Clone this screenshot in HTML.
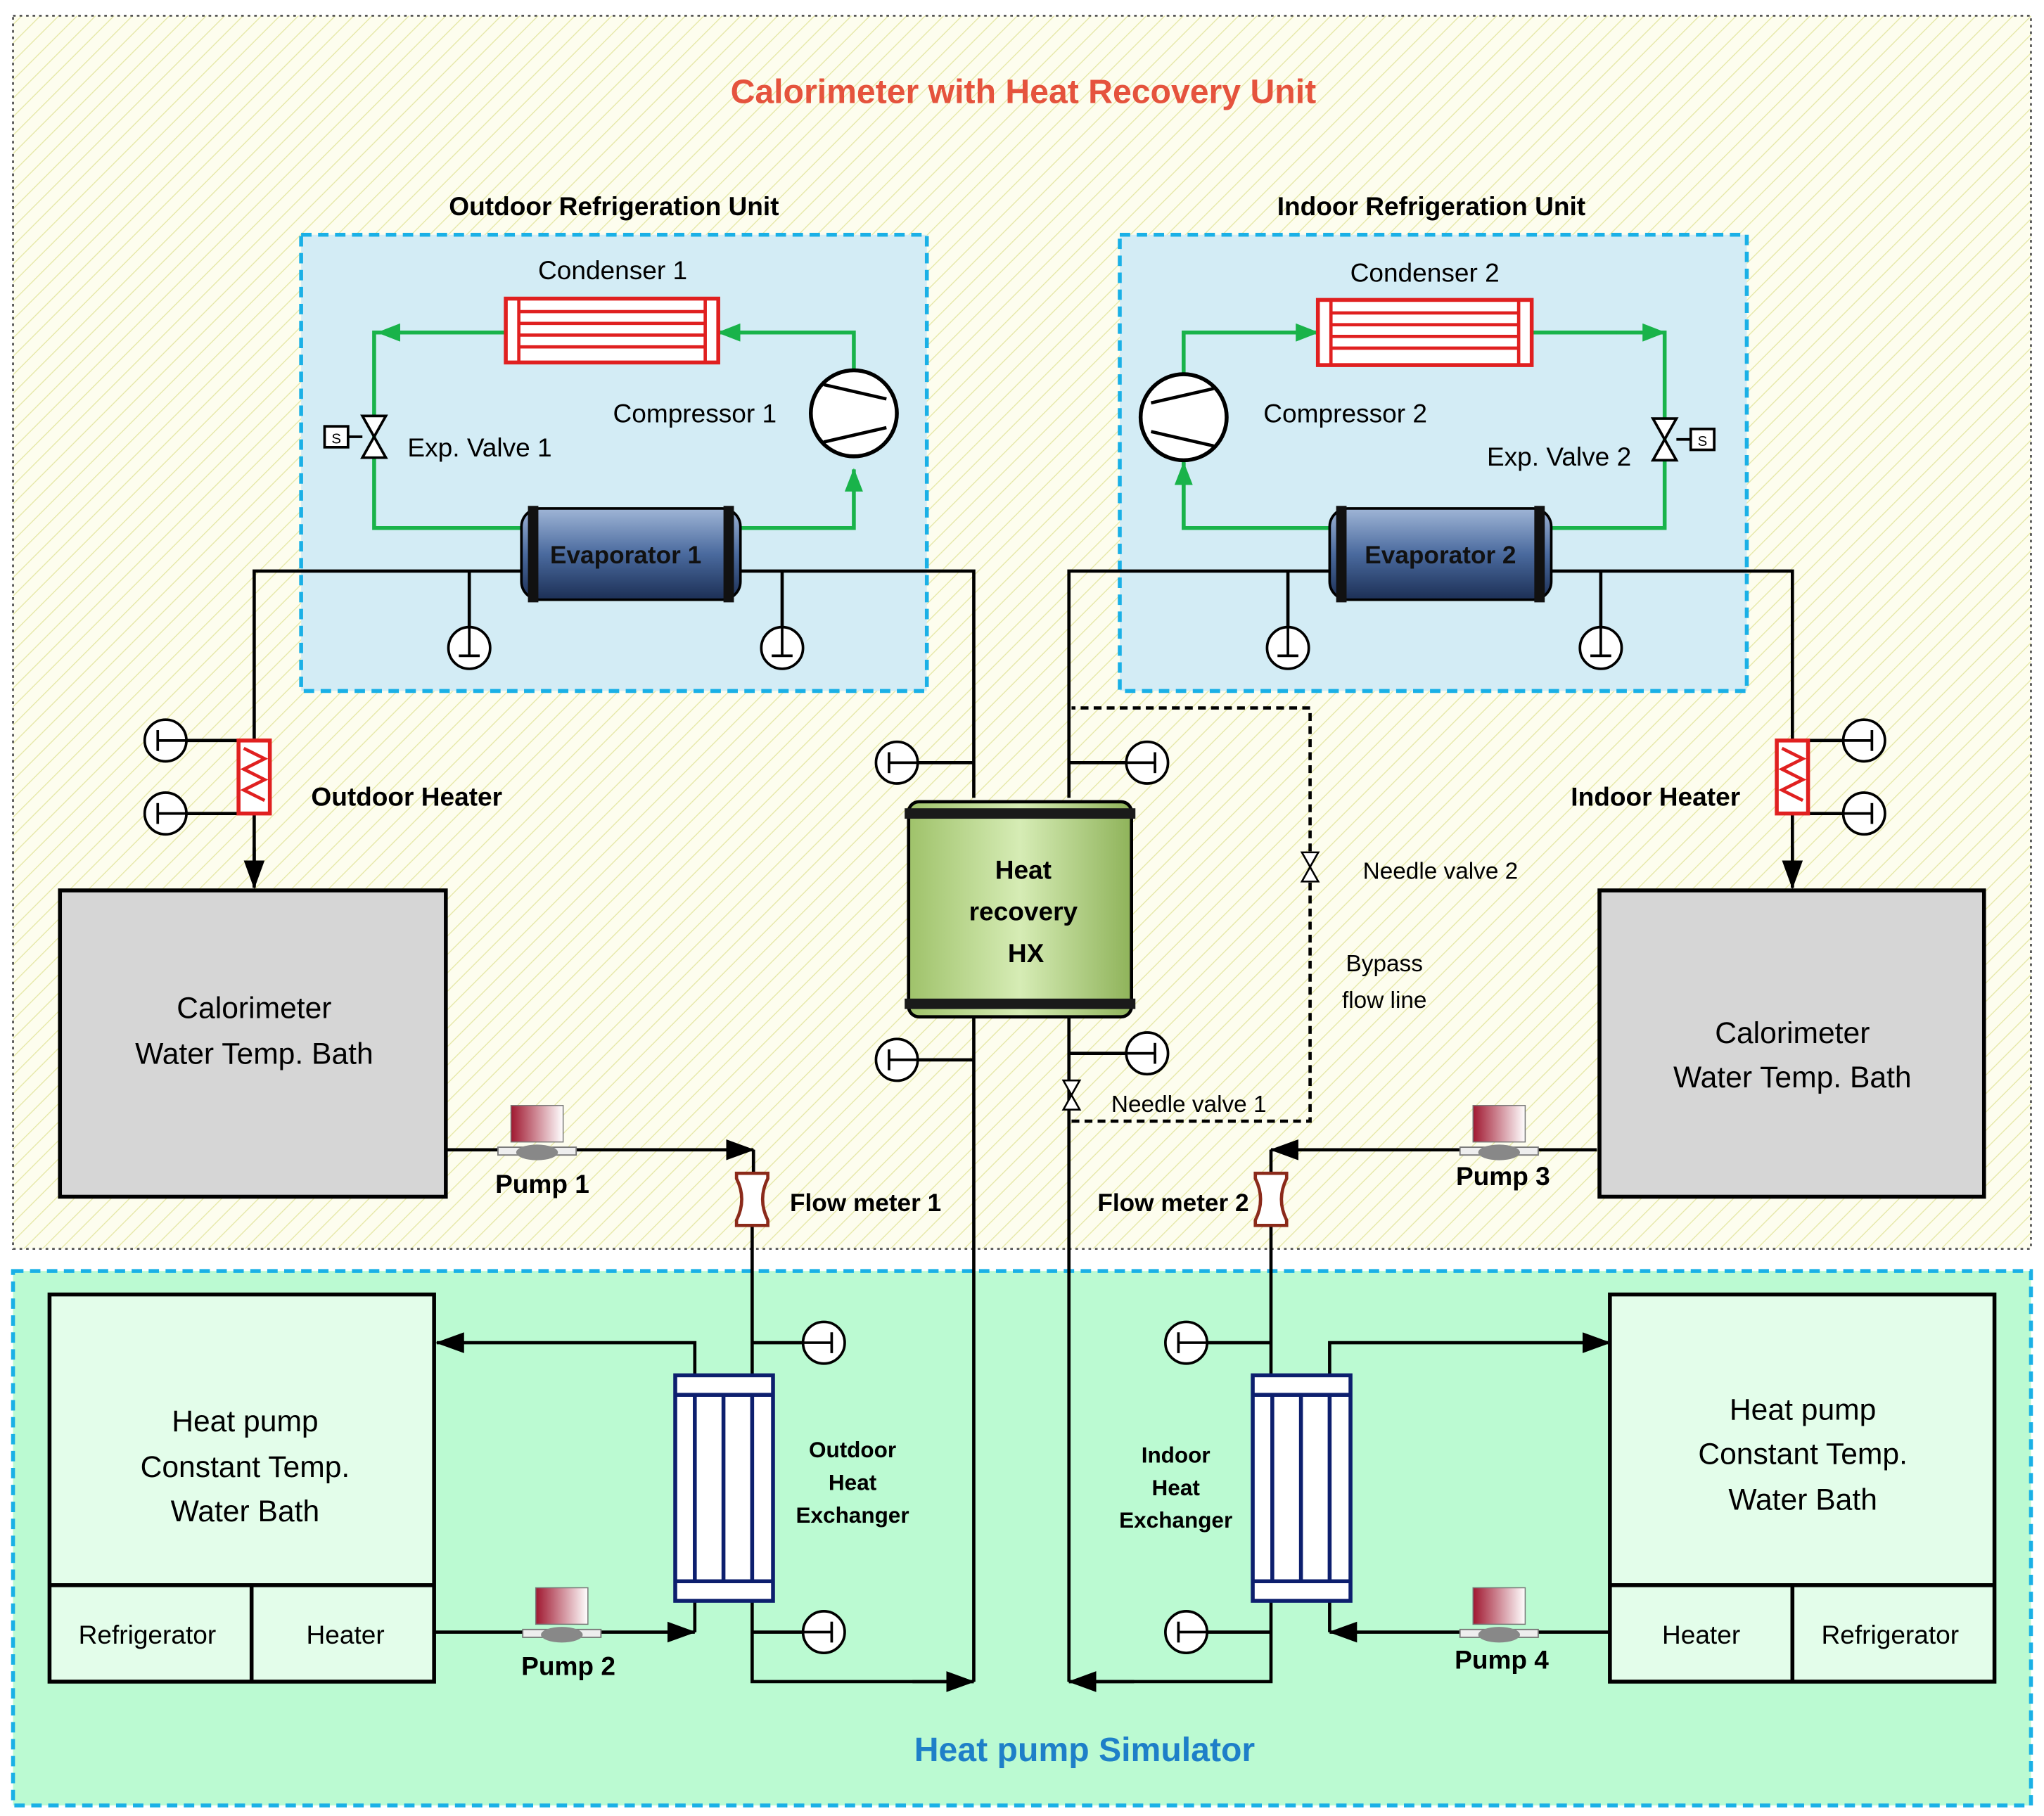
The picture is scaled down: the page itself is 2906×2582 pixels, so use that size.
<!DOCTYPE html>
<html><head><meta charset="utf-8"><style>html,body{margin:0;padding:0;background:#fff}svg{display:block}</style></head><body>
<svg width="2906" height="2582" viewBox="0 0 1568 1393" xmlns="http://www.w3.org/2000/svg" font-family="Liberation Sans, sans-serif">
<defs>
<pattern id="hatch" width="10" height="10" patternUnits="userSpaceOnUse" patternTransform="rotate(45)">
<rect width="10" height="10" fill="#fdfdee"/><line x1="0" y1="0" x2="0" y2="10" stroke="#e6e8a8" stroke-width="1.5"/></pattern>
<linearGradient id="evap" x1="0" y1="0" x2="0" y2="1"><stop offset="0" stop-color="#9fb5d6"/><stop offset="0.5" stop-color="#4a6a9e"/><stop offset="1" stop-color="#1c2f55"/></linearGradient>
<linearGradient id="hx" x1="0" y1="0" x2="1" y2="0"><stop offset="0" stop-color="#9fc26a"/><stop offset="0.5" stop-color="#d6ecb5"/><stop offset="1" stop-color="#8fb35a"/></linearGradient>
<linearGradient id="pump" x1="0" y1="0" x2="1" y2="0"><stop offset="0" stop-color="#a01830"/><stop offset="1" stop-color="#fff"/></linearGradient>
<marker id="ab" markerWidth="10" markerHeight="10" refX="9" refY="5" orient="auto" markerUnits="userSpaceOnUse"><path d="M0,0 L10,5 L0,10 z" fill="#000"/></marker>
<marker id="abk" markerWidth="22" markerHeight="16" refX="21" refY="8" orient="auto" markerUnits="userSpaceOnUse"><path d="M0,0 L22,8 L0,16 z" fill="#000"/></marker>
<marker id="ag" markerWidth="18" markerHeight="14" refX="17" refY="7" orient="auto" markerUnits="userSpaceOnUse"><path d="M0,0 L18,7 L0,14 z" fill="#19b34a"/></marker>
<g id="th"><circle r="16" fill="#fff" stroke="#000" stroke-width="2"/><line x1="0" y1="-16" x2="0" y2="6" stroke="#000" stroke-width="2"/><line x1="-8" y1="6" x2="8" y2="6" stroke="#000" stroke-width="2"/></g>
<g id="pmp"><rect x="-20" y="-36" width="40" height="28" fill="url(#pump)" stroke="#777" stroke-width="0.8"/><rect x="-30" y="-4" width="60" height="6" fill="#eee" stroke="#777"/><ellipse cx="0" cy="0" rx="16" ry="6" fill="#888"/></g>
<g id="fm"><path d="M-12,-20 L12,-20 L12,-16 Q4,0 12,16 L12,20 L-12,20 L-12,16 Q-4,0 -12,-16 Z" fill="#fff" stroke="#8b2a1a" stroke-width="2.5"/></g>
<g id="valve"><path d="M-9,-16 L9,-16 L-9,16 L9,16 Z" fill="#fff" stroke="#000" stroke-width="2"/></g>
</defs>

<!-- regions -->
<rect x="10" y="12" width="1548" height="946" fill="url(#hatch)" stroke="#555" stroke-width="1.5" stroke-dasharray="2,3"/>
<rect x="10" y="975" width="1548" height="410" fill="#bbfad2" stroke="#1ab0e6" stroke-width="3" stroke-dasharray="8,5"/>
<rect x="231" y="180" width="480" height="350" fill="#d3ecf5" stroke="#1ab0e6" stroke-width="3" stroke-dasharray="8,5"/>
<rect x="859" y="180" width="481" height="350" fill="#d3ecf5" stroke="#1ab0e6" stroke-width="3" stroke-dasharray="8,5"/>

<text x="785" y="79" font-size="26" font-weight="bold" fill="#e5533d" text-anchor="middle">Calorimeter with Heat Recovery Unit</text>
<text x="471" y="165" font-size="20" font-weight="bold" text-anchor="middle">Outdoor Refrigeration Unit</text>
<text x="1098" y="165" font-size="20" font-weight="bold" text-anchor="middle">Indoor Refrigeration  Unit</text>
<text x="832" y="1351" font-size="26" font-weight="bold" fill="#1e7fc8" text-anchor="middle">Heat pump Simulator</text>

<!-- green loops -->
<g stroke="#19b34a" stroke-width="3" fill="none">
<path d="M655,284 V255 H551" marker-end="url(#ag)"/>
<path d="M388,255 H287 V405 H400" />
<path d="M330,255 H290" marker-end="url(#ag)"/>
<path d="M568,405 H655 V360" marker-end="url(#ag)"/>
<path d="M908,288 V255 H1011" marker-end="url(#ag)"/>
<path d="M1175,255 H1277" marker-end="url(#ag)"/>
<path d="M1240,255 H1277 V405 H1190"/>
<path d="M1020,405 H908 V355" marker-end="url(#ag)"/>
<path d="M908,405 V352"/>
</g>
<!-- condensers -->
<g stroke="#e02020" stroke-width="3" fill="#fff">
<rect x="388" y="229" width="163" height="49"/>
<rect x="1011" y="230" width="164" height="50"/>
</g>
<g stroke="#e02020" stroke-width="2.5">
<path d="M398,229 V278 M541,229 V278 M398,239 H541 M398,248 H541 M398,257 H541 M398,266 H541"/>
<path d="M1021,230 V280 M1165,230 V280 M1021,240 H1165 M1021,249 H1165 M1021,258 H1165 M1021,267 H1165"/>
</g>
<text x="470" y="214" font-size="20" text-anchor="middle">Condenser 1</text>
<text x="1093" y="216" font-size="20" text-anchor="middle">Condenser 2</text>
<!-- compressors -->
<g stroke="#000" stroke-width="3" fill="#fff">
<circle cx="655" cy="317" r="33"/><circle cx="908" cy="320" r="33"/>
</g>
<path d="M632,295 L680,306 M632,339 L680,328 M931,298 L883,309 M931,342 L883,331" stroke="#000" stroke-width="2.5"/>
<text x="533" y="324" font-size="20" text-anchor="middle">Compressor 1</text>
<text x="1032" y="324" font-size="20" text-anchor="middle">Compressor 2</text>
<!-- exp valves -->
<use href="#valve" x="287" y="335"/><use href="#valve" x="1277" y="337"/>
<rect x="249" y="327" width="18" height="16" fill="#fff" stroke="#000" stroke-width="2"/><line x1="267" y1="335" x2="278" y2="335" stroke="#000" stroke-width="2"/>
<text x="258" y="340" font-size="11" text-anchor="middle">S</text>
<rect x="1297" y="329" width="18" height="16" fill="#fff" stroke="#000" stroke-width="2"/><line x1="1286" y1="337" x2="1297" y2="337" stroke="#000" stroke-width="2"/>
<text x="1306" y="342" font-size="11" text-anchor="middle">S</text>
<text x="368" y="350" font-size="20" text-anchor="middle">Exp. Valve 1</text>
<text x="1196" y="357" font-size="20" text-anchor="middle">Exp. Valve 2</text>

<!-- black piping -->
<g stroke="#000" stroke-width="2.5" fill="none">
<path d="M400,438 H195 V568 M195,624 V680" />
<path d="M195,650 V681" marker-end="url(#abk)"/>
<path d="M568,438 H747 V612"/>
<path d="M1020,438 H820 V612"/>
<path d="M1190,438 H1375 V568 M1375,624 V681"/>
<path d="M1375,650 V681" marker-end="url(#abk)"/>
<path d="M747,780 V1290 M820,780 V1290"/>
<path d="M342,882 H578" marker-end="url(#abk)"/>
<path d="M578,882 V900 M577,940 V1290 H747" />
<path d="M700,1290 H747" marker-end="url(#abk)"/>
<path d="M533,1055 V1030 H335" marker-end="url(#abk)"/>
<path d="M333,1252 H533" marker-end="url(#abk)"/>
<path d="M533,1252 V1228"/>
<path d="M1225,882 H975" marker-end="url(#abk)"/>
<path d="M975,882 V900 M975,940 V1290 H820"/>
<path d="M870,1290 H820" marker-end="url(#abk)"/>
<path d="M1020,1055 V1030 H1235" marker-end="url(#abk)"/>
<path d="M1235,1252 H1020" marker-end="url(#abk)"/>
<path d="M1020,1252 V1228"/>
<!-- thermometer stems -->
<path d="M360,438 V481 M600,438 V481 M988,438 V481 M1228,438 V481"/>
<path d="M143,568 H183 M143,624 H183 M1387,568 H1414 M1387,624 H1414"/>
<path d="M704,585 H747 M704,813 H747 M820,585 H864 M820,808 H864"/>
<path d="M577,1030 H616 M577,1252 H616 M926,1030 H975 M926,1252 H975"/>
</g>
<path d="M822,860 H1005 V543 H822" stroke="#000" stroke-width="2.5" fill="none" stroke-dasharray="6,4"/>
<!-- thermometers -->
<use href="#th" x="360" y="497"/><use href="#th" x="600" y="497"/><use href="#th" x="988" y="497"/><use href="#th" x="1228" y="497"/>
<use href="#th" transform="translate(127,568) rotate(90)"/><use href="#th" transform="translate(127,624) rotate(90)"/>
<use href="#th" transform="translate(1430,568) rotate(-90)"/><use href="#th" transform="translate(1430,624) rotate(-90)"/>
<use href="#th" transform="translate(688,585) rotate(90)"/><use href="#th" transform="translate(688,813) rotate(90)"/>
<use href="#th" transform="translate(880,585) rotate(-90)"/><use href="#th" transform="translate(880,808) rotate(-90)"/>
<use href="#th" transform="translate(632,1030) rotate(-90)"/><use href="#th" transform="translate(632,1252) rotate(-90)"/>
<use href="#th" transform="translate(910,1030) rotate(90)"/><use href="#th" transform="translate(910,1252) rotate(90)"/>

<!-- evaporators -->
<rect x="400" y="390" width="168" height="70" rx="14" fill="url(#evap)" stroke="#000" stroke-width="2"/>
<rect x="405" y="388" width="8" height="74" fill="#111"/><rect x="555" y="388" width="8" height="74" fill="#111"/>
<text x="480" y="432" font-size="19" font-weight="bold" fill="#111" text-anchor="middle">Evaporator 1</text>
<rect x="1020" y="390" width="170" height="70" rx="14" fill="url(#evap)" stroke="#000" stroke-width="2"/>
<rect x="1025" y="388" width="8" height="74" fill="#111"/><rect x="1177" y="388" width="8" height="74" fill="#111"/>
<text x="1105" y="432" font-size="19" font-weight="bold" fill="#111" text-anchor="middle">Evaporator 2</text>

<!-- heaters -->
<g fill="#fff" stroke="#e02020" stroke-width="3"><rect x="183" y="568" width="24" height="56"/><rect x="1363" y="568" width="24" height="56"/></g>
<path d="M187,574 L203,582 L187,590 L203,598 L187,606 L203,614" stroke="#e02020" stroke-width="2.5" fill="none"/>
<path d="M1367,574 L1383,582 L1367,590 L1383,598 L1367,606 L1383,614" stroke="#e02020" stroke-width="2.5" fill="none"/>
<text x="312" y="618" font-size="20" font-weight="bold" text-anchor="middle">Outdoor Heater</text>
<text x="1270" y="618" font-size="20" font-weight="bold" text-anchor="middle">Indoor Heater</text>

<!-- HX -->
<rect x="697" y="615" width="171" height="165" rx="8" fill="url(#hx)" stroke="#000" stroke-width="2.5"/>
<rect x="694" y="620" width="177" height="8" fill="#1a1a1a"/><rect x="694" y="766" width="177" height="8" fill="#1a1a1a"/>
<text x="785" y="674" font-size="20" font-weight="bold" text-anchor="middle">Heat</text>
<text x="785" y="706" font-size="20" font-weight="bold" text-anchor="middle">recovery</text>
<text x="787" y="738" font-size="20" font-weight="bold" text-anchor="middle">HX</text>

<!-- bypass / needle valves -->
<use href="#valve" transform="translate(822,840) scale(0.7)"/>
<use href="#valve" transform="translate(1005,665) scale(0.7)"/>
<text x="912" y="853" font-size="18" text-anchor="middle">Needle valve 1</text>
<text x="1105" y="674" font-size="18" text-anchor="middle">Needle valve 2</text>
<text x="1062" y="745" font-size="18" text-anchor="middle">Bypass</text>
<text x="1062" y="773" font-size="18" text-anchor="middle">flow line</text>

<!-- calorimeter baths -->
<rect x="46" y="683" width="296" height="235" fill="#d6d6d6" stroke="#000" stroke-width="3"/>
<text x="195" y="781" font-size="23" text-anchor="middle">Calorimeter</text>
<text x="195" y="816" font-size="23" text-anchor="middle">Water Temp. Bath</text>
<rect x="1227" y="683" width="295" height="235" fill="#d6d6d6" stroke="#000" stroke-width="3"/>
<text x="1375" y="800" font-size="23" text-anchor="middle">Calorimeter</text>
<text x="1375" y="834" font-size="23" text-anchor="middle">Water Temp. Bath</text>

<!-- pumps, flow meters -->
<use href="#pmp" x="412" y="884"/><use href="#pmp" x="1150" y="884"/>
<use href="#pmp" x="431" y="1254"/><use href="#pmp" x="1150" y="1254"/>
<text x="416" y="915" font-size="20" font-weight="bold" text-anchor="middle">Pump 1</text>
<text x="1153" y="909" font-size="20" font-weight="bold" text-anchor="middle">Pump 3</text>
<text x="436" y="1285" font-size="20" font-weight="bold" text-anchor="middle">Pump 2</text>
<text x="1152" y="1280" font-size="20" font-weight="bold" text-anchor="middle">Pump 4</text>
<use href="#fm" x="577" y="920"/><use href="#fm" x="975" y="920"/>
<text x="664" y="929" font-size="19" font-weight="bold" text-anchor="middle">Flow meter 1</text>
<text x="900" y="929" font-size="19" font-weight="bold" text-anchor="middle">Flow meter 2</text>

<!-- heat pump baths -->
<rect x="38" y="993" width="295" height="297" fill="#e3fdea" stroke="#000" stroke-width="3"/>
<path d="M38,1216 H333 M193,1216 V1290" stroke="#000" stroke-width="3"/>
<text x="188" y="1098" font-size="23" text-anchor="middle">Heat pump</text>
<text x="188" y="1133" font-size="23" text-anchor="middle">Constant Temp.</text>
<text x="188" y="1167" font-size="23" text-anchor="middle">Water Bath</text>
<text x="113" y="1261" font-size="20" text-anchor="middle">Refrigerator</text>
<text x="265" y="1261" font-size="20" text-anchor="middle">Heater</text>
<rect x="1235" y="993" width="295" height="297" fill="#e3fdea" stroke="#000" stroke-width="3"/>
<path d="M1235,1216 H1530 M1375,1216 V1290" stroke="#000" stroke-width="3"/>
<text x="1383" y="1089" font-size="23" text-anchor="middle">Heat pump</text>
<text x="1383" y="1123" font-size="23" text-anchor="middle">Constant Temp.</text>
<text x="1383" y="1158" font-size="23" text-anchor="middle">Water Bath</text>
<text x="1305" y="1261" font-size="20" text-anchor="middle">Heater</text>
<text x="1450" y="1261" font-size="20" text-anchor="middle">Refrigerator</text>

<!-- plate HX -->
<g stroke="#0d1f6e" stroke-width="3" fill="#fff">
<rect x="518" y="1055" width="75" height="173"/><rect x="961" y="1055" width="75" height="173"/>
</g>
<path d="M518,1070 H593 M518,1213 H593 M533,1070 V1213 M555,1070 V1213 M577,1070 V1213 M961,1070 H1036 M961,1213 H1036 M976,1070 V1213 M998,1070 V1213 M1020,1070 V1213" stroke="#0d1f6e" stroke-width="3"/>
<text x="654" y="1118" font-size="17" font-weight="bold" text-anchor="middle">Outdoor</text>
<text x="654" y="1143" font-size="17" font-weight="bold" text-anchor="middle">Heat</text>
<text x="654" y="1168" font-size="17" font-weight="bold" text-anchor="middle">Exchanger</text>
<text x="902" y="1122" font-size="17" font-weight="bold" text-anchor="middle">Indoor</text>
<text x="902" y="1147" font-size="17" font-weight="bold" text-anchor="middle">Heat</text>
<text x="902" y="1172" font-size="17" font-weight="bold" text-anchor="middle">Exchanger</text>
</svg>
</body></html>
